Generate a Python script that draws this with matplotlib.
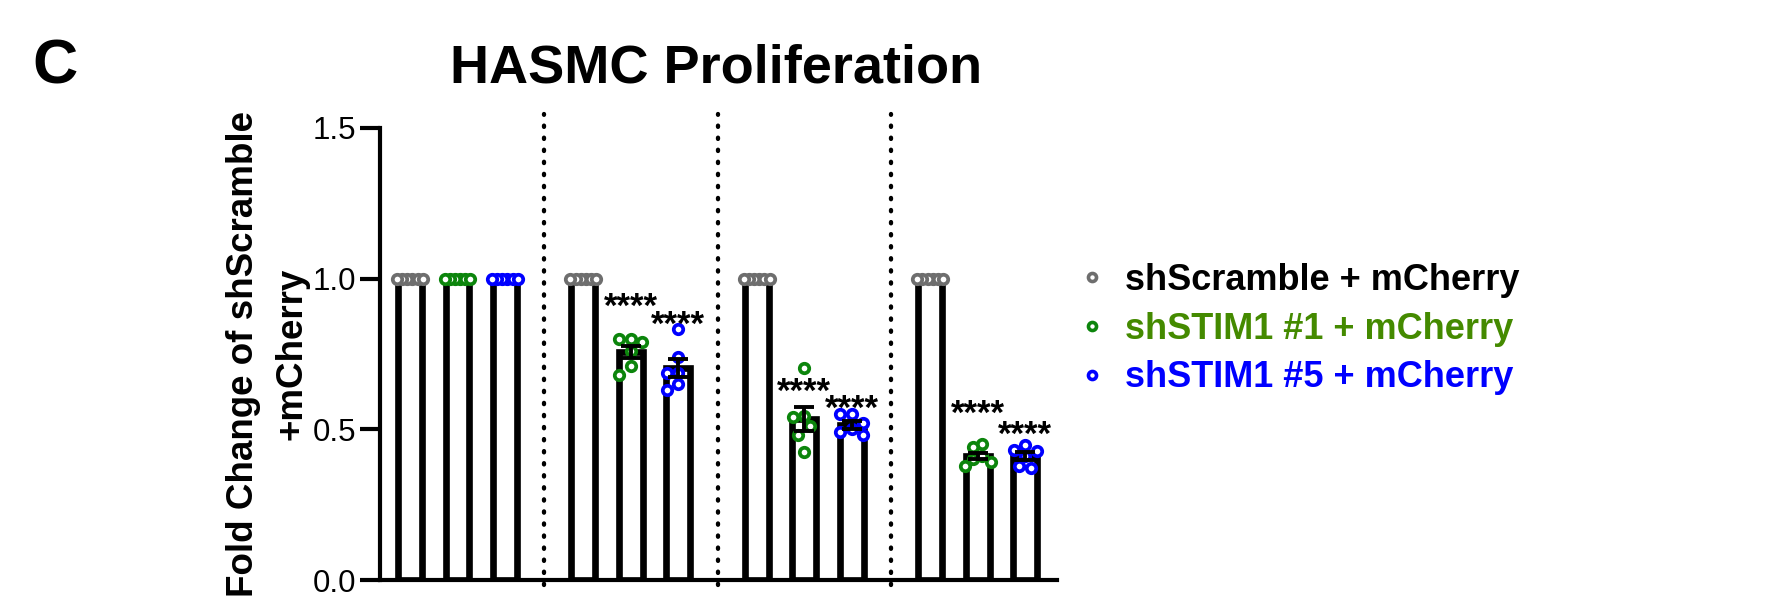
import numpy as np
import matplotlib
matplotlib.use("Agg")
import matplotlib.pyplot as plt
from matplotlib.lines import Line2D

plt.rcParams["font.family"] = ["Liberation Sans", "DejaVu Sans"]

# fold change per replicate, one list per condition block
series_names = ["shScramble + mCherry", "shSTIM1 #1 + mCherry", "shSTIM1 #5 + mCherry"]
scramble = [
    [1.0, 1.0, 1.0, 1.0, 1.0, 1.0],
    [1.0, 1.0, 1.0, 1.0, 1.0, 1.0],
    [1.0, 1.0, 1.0, 1.0, 1.0, 1.0],
    [1.0, 1.0, 1.0, 1.0, 1.0, 1.0],
]
stim1_1 = [
    [1.0, 1.0, 1.0, 1.0, 1.0, 1.0],
    [0.80, 0.79, 0.80, 0.76, 0.71, 0.68],
    [0.705, 0.545, 0.54, 0.51, 0.48, 0.425],
    [0.45, 0.44, 0.41, 0.40, 0.39, 0.38],
]
stim1_5 = [
    [1.0, 1.0, 1.0, 1.0, 1.0, 1.0],
    [0.833, 0.739, 0.687, 0.687, 0.65, 0.631],
    [0.55, 0.55, 0.52, 0.50, 0.49, 0.48],
    [0.447, 0.433, 0.428, 0.41, 0.378, 0.372],
]
# significance labels (block, series) and the height they sit at
stars = ["****", "****", "****", "****", "****", "****"]
star_bars = [(1, 1), (1, 2), (2, 1), (2, 2), (3, 1), (3, 2)]
star_y = [0.938, 0.88, 0.656, 0.60, 0.584, 0.514]

point_colors = ["#6e6e6e", "#0c850c", "#0000ff"]
text_colors = ["#000000", "#448a00", "#0000ff"]


def swarm_offsets(vals, dx=0.245, dy=0.036, half_width=0.27):
    vals = np.asarray(vals, dtype=float)
    order = np.argsort(-vals, kind="stable")
    offs = np.zeros(len(vals))
    placed = []
    for i in order:
        v = vals[i]
        found = None
        for k in range(40):
            cands = [0.0] if k == 0 else [-k * dx / 2, k * dx / 2]
            for c in cands:
                if all(((c - o) / dx) ** 2 + ((v - w) / dy) ** 2 >= 0.999 for o, w in placed):
                    found = c
                    break
            if found is not None:
                break
        offs[i] = found
        placed.append((found, v))
    if offs.max() > half_width or offs.min() < -half_width:
        mid = (offs.max() + offs.min()) / 2
        span = offs.max() - offs.min()
        offs = (offs - mid) * (2 * half_width / span)
    return offs


fig = plt.figure(figsize=(17.88, 6.13), dpi=100)
ax = fig.add_axes([0.2125, 0.0538, 0.5912 - 0.2125, 0.7912 - 0.0538])

group_step = 3.65
all_series = [scramble, stim1_1, stim1_5]
bar_x = {}
for g in range(4):
    for s, data in enumerate(all_series):
        x = g * group_step + s
        vals = np.array(data[g])
        mean = vals.mean()
        sem = vals.std(ddof=1) / np.sqrt(len(vals))
        bar_x[(g, s)] = x
        ax.bar(x, mean, width=0.5, facecolor="white", edgecolor="black",
               linewidth=4.8, zorder=1)
        offs = swarm_offsets(vals)
        ax.plot(x + offs, vals, linestyle="none", marker="o", markersize=6.8,
                markeredgewidth=2.7, markeredgecolor=point_colors[s],
                markerfacecolor="white", zorder=2)
        if sem > 0:
            ax.errorbar(x, mean, yerr=sem, fmt="none", ecolor="black",
                        elinewidth=2.8, capsize=7, capthick=2.8, zorder=3)

for label, (g, s), y in zip(stars, star_bars, star_y):
    ax.text(bar_x[(g, s)], y - 0.066, label, ha="center", va="baseline",
            fontsize=25, fontweight="bold", color="black", zorder=4)

# dotted separators between condition blocks
for g in range(3):
    sep = g * group_step + 2 + (group_step - 2) / 2
    ax.axvline(sep, ymin=-0.012, ymax=1.03, color="black", linewidth=3.1,
               linestyle=(0, (0.3, 2.5)), dash_capstyle="round", clip_on=False)

ax.set_xlim(-0.63, 3 * group_step + 2 + 0.67)
ax.set_ylim(0, 1.5)
ax.set_yticks([0.0, 0.5, 1.0, 1.5])
ax.set_yticklabels(["0.0", "0.5", "1.0", "1.5"])
ax.set_xticks([])
ax.spines["top"].set_visible(False)
ax.spines["right"].set_visible(False)
ax.spines["left"].set_linewidth(3)
ax.spines["bottom"].set_linewidth(3)
ax.tick_params(axis="y", length=14.5, width=3, labelsize=22.5, pad=2.5)

ax.set_ylabel("Fold Change of shScramble\n+mCherry", fontsize=26.5,
              fontweight="bold", linespacing=1.5, va="center")
ax.yaxis.set_label_coords(-0.166, 0.5)

fig.text(0.4007, 0.888, "HASMC Proliferation", ha="center", va="center",
         fontsize=39, fontweight="bold")
fig.text(0.031, 0.89, "C", ha="center", va="center", fontsize=45,
         fontweight="bold")

handles = [Line2D([], [], linestyle="none", marker="o", markersize=5.8,
                  markeredgewidth=2.6, markeredgecolor=c, markerfacecolor="white")
           for c in point_colors]
fig.legend(handles, series_names, loc="center left",
           bbox_to_anchor=(0.6007, 1 - 329 / 613), frameon=False,
           prop={"size": 26, "weight": "bold"}, labelcolor=text_colors,
           handlelength=1.0, handletextpad=0.42, labelspacing=0.38,
           borderpad=0, borderaxespad=0)

fig.savefig("out.png", dpi=100, facecolor="white")
